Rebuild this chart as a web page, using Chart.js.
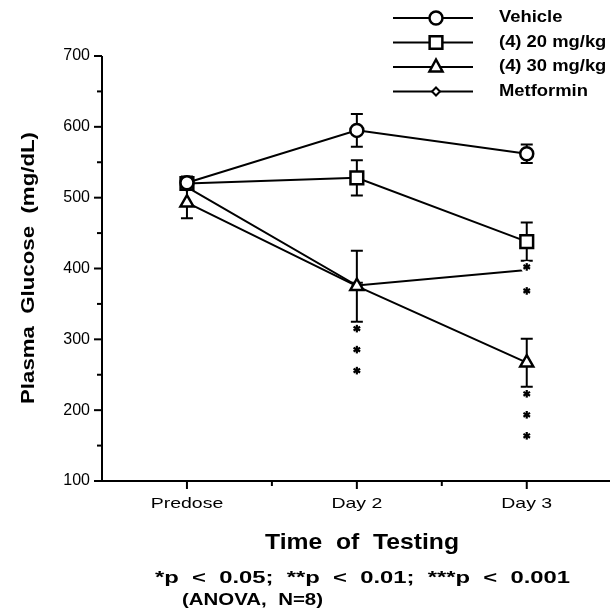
<!DOCTYPE html>
<html>
<head>
<meta charset="utf-8">
<script src="https://cdn.jsdelivr.net/npm/chart.js@4/dist/chart.umd.min.js"></script>
<style>
  body { margin: 0; background: #fff; }
  canvas { display: block; }
</style>
</head>
<body>
<canvas id="glucoseChart" width="610" height="610"></canvas>
<script>
// values (mg/dL), mean and SEM
const categories = ["Predose", "Day 2", "Day 3"];
const seriesNames = ["Vehicle", "(4) 20 mg/kg", "(4) 30 mg/kg", "Metformin"];
const vehicle = [521, 595, 562];
const vehicleErr = [9, 23, 13];
const dose20 = [520, 528, 438];
const dose20Err = [9, 25, 27];
const dose30 = [493, 375, 267];
const dose30Err = [22, 50, 34];
const metformin = [515, 376, 398];
const metforminErr = [0, 4, 0];
const yTickValues = [100, 200, 300, 400, 500, 600, 700];
// significance stars: which series, which day, how many
const sigMarks = [
    { series: 2, cat: 1, stars: 3 },
    { series: 2, cat: 2, stars: 3 },
    { series: 3, cat: 2, stars: 2 }
];

const FONT = '"Liberation Sans", Arial, Helvetica, sans-serif';
const allValues = [vehicle, dose20, dose30, metformin];
const allErrs = [vehicleErr, dose20Err, dose30Err, metforminErr];
const styles = [
    { pointStyle: "circle", radius: 6.5 },
    { pointStyle: "rect", radius: 9 },
    { pointStyle: "triangle", radius: 7.5 },
    { pointStyle: "rectRot", radius: 4 }
];

function toPoints(arr) {
    return arr.map((v, i) => ({ x: i, y: v }));
}

const datasets = allValues.map((vals, k) => ({
    label: seriesNames[k],
    data: toPoints(vals),
    borderColor: "#000",
    borderWidth: 2,
    backgroundColor: "#fff",
    pointStyle: styles[k].pointStyle,
    pointRadius: k === 3 ? [styles[k].radius, styles[k].radius, 0] : styles[k].radius,
    pointBorderWidth: k === 3 ? 2 : 2.5,
    pointBackgroundColor: "#fff",
    pointBorderColor: "#000",
    tension: 0
}));

// text with a horizontal stretch so it matches the old typesetting
function drawStretched(ctx, text, x, y, font, width, align) {
    ctx.save();
    ctx.font = font;
    const w = ctx.measureText(text).width;
    const s = width ? width / w : 1;
    ctx.translate(x, y);
    ctx.scale(s, 1);
    ctx.textAlign = align || "left";
    ctx.textBaseline = "middle";
    ctx.fillStyle = "#000";
    ctx.fillText(text, 0, 0);
    ctx.restore();
}

function drawStar(ctx, x, y) {
    ctx.save();
    ctx.fillStyle = "#fff";
    ctx.beginPath();
    ctx.arc(x, y, 6, 0, Math.PI * 2);
    ctx.fill();
    ctx.strokeStyle = "#000";
    ctx.lineWidth = 2.2;
    const r = 3.8;
    for (let a = 0; a < 3; a++) {
        const ang = Math.PI / 2 + a * Math.PI / 3;
        ctx.beginPath();
        ctx.moveTo(x - r * Math.cos(ang), y - r * Math.sin(ang));
        ctx.lineTo(x + r * Math.cos(ang), y + r * Math.sin(ang));
        ctx.stroke();
    }
    ctx.restore();
}

function drawMarker(ctx, style, r, x, y) {
    ctx.save();
    ctx.fillStyle = "#fff";
    ctx.strokeStyle = "#000";
    ctx.lineWidth = style === "rectRot" ? 2 : 2.5;
    ctx.beginPath();
    if (style === "circle") {
        ctx.arc(x, y, r, 0, Math.PI * 2);
    } else if (style === "rect") {
        const s = Math.SQRT1_2 * r;
        ctx.rect(x - s, y - s, 2 * s, 2 * s);
    } else if (style === "triangle") {
        ctx.moveTo(x, y - r);
        ctx.lineTo(x + r * 0.87, y + r * 0.6);
        ctx.lineTo(x - r * 0.87, y + r * 0.6);
        ctx.closePath();
    } else {
        ctx.moveTo(x, y - r);
        ctx.lineTo(x + r, y);
        ctx.lineTo(x, y + r);
        ctx.lineTo(x - r, y);
        ctx.closePath();
    }
    ctx.fill();
    ctx.stroke();
    ctx.restore();
}

const figurePlugin = {
    id: "figure",
    beforeDatasetsDraw(chart) {
        const ctx = chart.ctx;
        const xs = chart.scales.x, ys = chart.scales.y;
        const area = chart.chartArea;
        ctx.save();
        ctx.strokeStyle = "#000";
        ctx.lineWidth = 2;
        // axes
        ctx.beginPath();
        ctx.moveTo(area.left, area.top);
        ctx.lineTo(area.left, area.bottom);
        ctx.moveTo(area.left - 8, area.bottom);
        ctx.lineTo(chart.width, area.bottom);
        ctx.stroke();
        // y ticks, long at labelled values
        for (let v = 100; v <= 700; v += 50) {
            const py = ys.getPixelForValue(v);
            const len = v % 100 === 0 ? 8 : 5;
            ctx.beginPath();
            ctx.moveTo(area.left - len, py);
            ctx.lineTo(area.left, py);
            ctx.stroke();
        }
        // x ticks: long at the days, short between them
        for (let i = 0; i < categories.length; i++) {
            const px = xs.getPixelForValue(i);
            ctx.beginPath();
            ctx.moveTo(px, area.bottom);
            ctx.lineTo(px, area.bottom + 8);
            ctx.stroke();
            if (i < categories.length - 1) {
                const mx = xs.getPixelForValue(i + 0.5);
                ctx.beginPath();
                ctx.moveTo(mx, area.bottom);
                ctx.lineTo(mx, area.bottom + 5);
                ctx.stroke();
            }
        }
        // error bars
        allValues.forEach((vals, k) => {
            vals.forEach((v, i) => {
                const e = allErrs[k][i];
                if (!e) return;
                const px = xs.getPixelForValue(i);
                const top = ys.getPixelForValue(v + e);
                const bot = ys.getPixelForValue(v - e);
                ctx.beginPath();
                ctx.moveTo(px, top);
                ctx.lineTo(px, bot);
                ctx.moveTo(px - 6, top);
                ctx.lineTo(px + 6, top);
                ctx.moveTo(px - 6, bot);
                ctx.lineTo(px + 6, bot);
                ctx.stroke();
            });
        });
        ctx.restore();
    },
    afterDraw(chart) {
        const ctx = chart.ctx;
        const xs = chart.scales.x, ys = chart.scales.y;

        // category labels
        categories.forEach((c, i) => {
            const px = xs.getPixelForValue(i);
            ctx.save();
            ctx.font = "15px " + FONT;
            const w = ctx.measureText(c).width;
            ctx.restore();
            drawStretched(ctx, c, px, 504, "15px " + FONT, w * 1.3, "center");
        });

        // significance stars
        sigMarks.forEach(m => {
            const v = allValues[m.series][m.cat];
            const e = allErrs[m.series][m.cat];
            const px = xs.getPixelForValue(m.cat);
            let py = ys.getPixelForValue(v - e) + (e ? 7 : -3);
            for (let s = 0; s < m.stars; s++) {
                drawStar(ctx, px, py);
                py += e ? 21 : 24;
            }
        });

        // titles and footnote
        drawStretched(ctx, "Time  of  Testing", 362, 543, "bold 22px " + FONT, 194, "center");
        drawStretched(ctx, "*p  <  0.05;  **p  <  0.01;  ***p  <  0.001", 155, 578, "bold 17px " + FONT, 415, "left");
        drawStretched(ctx, "(ANOVA,  N=8)", 182, 600, "bold 17px " + FONT, 141, "left");
        ctx.save();
        ctx.translate(29, 268);
        ctx.rotate(-Math.PI / 2);
        drawStretched(ctx, "Plasma  Glucose  (mg/dL)", 0, 0, "bold 19px " + FONT, 272, "center");
        ctx.restore();

        // legend
        seriesNames.forEach((name, k) => {
            const ly = 18 + k * 24.5;
            ctx.save();
            ctx.strokeStyle = "#000";
            ctx.lineWidth = 2;
            ctx.beginPath();
            ctx.moveTo(393, ly);
            ctx.lineTo(473, ly);
            ctx.stroke();
            ctx.restore();
            drawMarker(ctx, styles[k].pointStyle, styles[k].radius, 436, ly);
            ctx.save();
            ctx.font = "bold 16px " + FONT;
            const w = ctx.measureText(name).width;
            ctx.restore();
            drawStretched(ctx, name, 499, ly, "bold 16px " + FONT, w * 1.15, "left");
        });
    }
};

const ctx = document.getElementById("glucoseChart").getContext("2d");
const chart = new Chart(ctx, {
    type: "line",
    data: { datasets: datasets },
    options: {
        responsive: false,
        animation: false,
        layout: { autoPadding: false, padding: { top: 56, left: 0, right: 0, bottom: 0 } },
        plugins: {
            legend: { display: false },
            tooltip: { enabled: false }
        },
        scales: {
            x: {
                type: "linear",
                min: -0.5,
                max: 2.49,
                grid: { display: false },
                border: { display: false },
                ticks: { display: false },
                afterFit: scale => { scale.height = 129; }
            },
            y: {
                type: "linear",
                min: 100,
                max: 700,
                afterBuildTicks: scale => {
                    scale.ticks = yTickValues.map(v => ({ value: v }));
                },
                grid: { display: false },
                border: { display: false },
                ticks: {
                    color: "#000",
                    padding: 4,
                    font: { family: FONT, size: 16 }
                },
                afterFit: scale => { scale.width = 102; }
            }
        }
    },
    plugins: [figurePlugin]
});
</script>
</body>
</html>
